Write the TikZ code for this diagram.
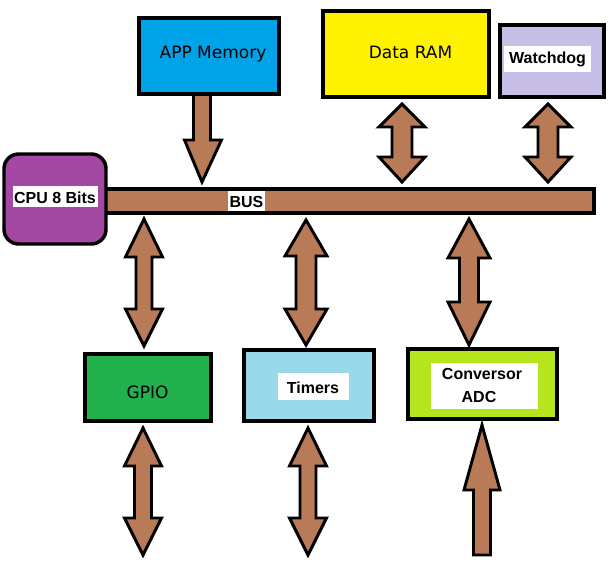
\documentclass[tikz,border=0pt]{standalone}
\usepackage{fontspec}
\setmainfont{DejaVu Sans}
\newfontfamily\lsans{Liberation Sans}
\definecolor{busbrown}{HTML}{B97A57}
\definecolor{appblue}{HTML}{00A2E8}
\definecolor{ramyellow}{HTML}{FFF200}
\definecolor{wdlav}{HTML}{C8BFE7}
\definecolor{cpupurple}{HTML}{A349A4}
\definecolor{gpiogreen}{HTML}{22B14C}
\definecolor{timblue}{HTML}{99D9EA}
\definecolor{adclime}{HTML}{B5E61D}
\tikzset{
  boxline/.style={draw=black, line width=2.6pt},
  arrowline/.style={draw=black, fill=busbrown, line width=2.2pt, line join=miter, miter limit=10},
  regtext/.style={anchor=base, inner sep=0pt, font=\fontsize{12.75}{15}\selectfont},
  boldtext/.style={anchor=base, inner sep=0pt, font=\lsans\bfseries\fontsize{12}{15}\selectfont},
  whitebg/.style={fill=white, draw=none}
}
% double arrow: center x, top tip y, upper base y, lower base y, bottom tip y, head half width, shaft half width
\newcommand\dblarr[7]{%
  \draw[arrowline] (#1,#2) -- ({#1+#6},#3) -- ({#1+#7},#3) -- ({#1+#7},#4) -- ({#1+#6},#4) -- (#1,#5)
    -- ({#1-#6},#4) -- ({#1-#7},#4) -- ({#1-#7},#3) -- ({#1-#6},#3) -- cycle;}
\begin{document}
\begin{tikzpicture}[x=0.75pt,y=-0.75pt]
\useasboundingbox (0,0) rectangle (609,575);
\fill[white] (0,0) rectangle (609,575);

% arrows between top boxes and bus
\draw[arrowline] (193.5,94) -- (193.5,140) -- (184.5,140) -- (202,182) -- (221.5,140) -- (210.5,140) -- (210.5,94) -- cycle;
\dblarr{402}{104}{127}{157}{182}{23}{10}
\dblarr{548}{104}{127}{157}{182}{23}{10}
% arrows between bus and lower boxes
\dblarr{144}{219}{257}{309}{346}{18.5}{8}
\dblarr{306}{220}{256}{309}{345}{21}{10}
\dblarr{469}{219}{258}{302}{345}{21}{9.5}
% outside arrows
\dblarr{143}{428}{466}{518}{555}{18.5}{8.5}
\dblarr{308}{428}{466}{518}{555}{18.5}{8}
\draw[arrowline] (482,425) -- (500,490) -- (490.5,490) -- (490.5,555) -- (473.5,555) -- (473.5,490) -- (464,490) -- cycle;

% bus
\draw[boxline, fill=busbrown] (60,189) rectangle (594,213);
\fill[white] (228,191) rectangle (265,211);
\node[boldtext] (bus) at (246.5,207) {BUS};

% CPU
\draw[boxline, fill=cpupurple, rounded corners=11pt] (4,154) rectangle (106,244);
\fill[white] (13,186) rectangle (98,207);
\node[boldtext] (cpu) at (55,203) {CPU 8 Bits};

% top boxes
\draw[boxline, fill=appblue] (139,18) rectangle (279,94);
\node[regtext] (app) at (213,58) {APP Memory};

\draw[boxline, fill=ramyellow] (323,11) rectangle (489,97);
\node[regtext] (ram) at (410.5,58) {Data RAM};

\draw[boxline, fill=wdlav] (500,25) rectangle (604,97);
\fill[white] (504,46) rectangle (591,72);
\node[boldtext] (wd) at (547.5,63.5) {Watchdog};

% lower boxes
\draw[boxline, fill=gpiogreen] (85,354) rectangle (211,421);
\node[regtext] (gpio) at (147.5,398) {GPIO};

\draw[boxline, fill=timblue] (244,350) rectangle (374,421);
\fill[white] (278,373) rectangle (349,400);
\node[boldtext] (tim) at (313,393) {Timers};

\draw[boxline, fill=adclime] (408,349) rectangle (557,419);
\fill[white] (431,363) rectangle (538,409);
\node[boldtext] (conv) at (482,379) {Conversor};
\node[boldtext] (adc) at (479,402.5) {ADC};
\end{tikzpicture}
\end{document}
